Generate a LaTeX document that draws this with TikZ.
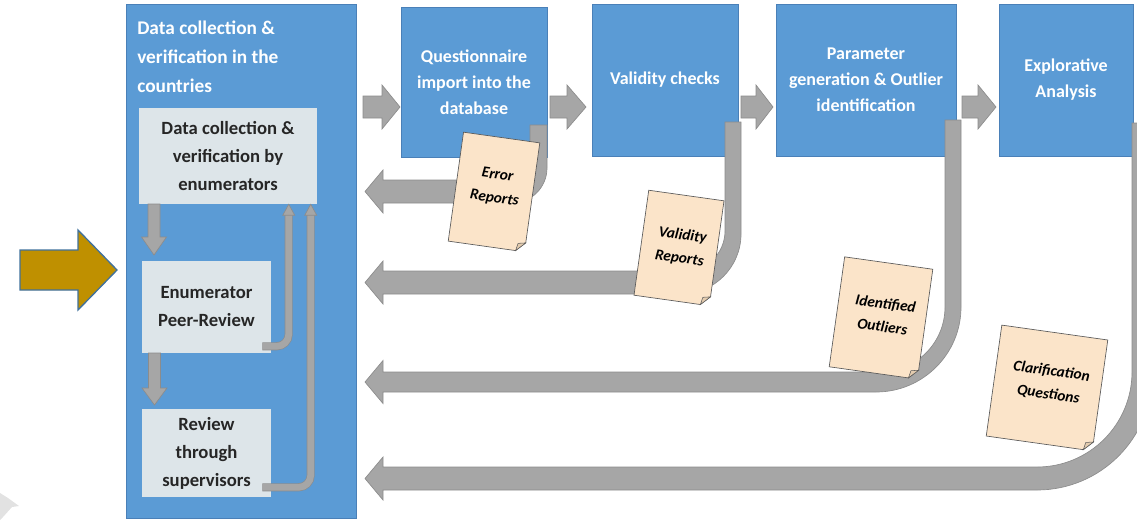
\documentclass[tikz,border=0pt]{standalone}
\usepackage{fontspec}
\setmainfont{Carlito}
\usetikzlibrary{calc}

\definecolor{boxblue}{HTML}{5B9BD5}
\definecolor{boxedge}{HTML}{4A80B8}
\definecolor{innerfill}{HTML}{DDE5E9}
\definecolor{innertext}{HTML}{262626}
\definecolor{pipegrey}{HTML}{A6A6A6}
\definecolor{pipeedge}{HTML}{8C8C8C}
\definecolor{notefill}{HTML}{FBE4C9}
\definecolor{curlfill}{HTML}{E3CBAE}
\definecolor{noteedge}{HTML}{5A5A5A}
\definecolor{gold}{HTML}{BF9000}
\definecolor{goldedge}{HTML}{41719C}
\definecolor{cornermark}{HTML}{E2E2E2}

\tikzset{
  procbox/.style={draw=boxedge, line width=0.7pt, fill=boxblue, text=white,
    align=center, inner sep=0pt,
    font=\bfseries\fontsize{13.5}{19.5}\selectfont},
  innerbox/.style={fill=innerfill, draw=none, text=innertext, align=center,
    inner sep=0pt, font=\bfseries\fontsize{14}{21}\selectfont},
  blockarrow/.style={fill=pipegrey, draw=pipeedge, line width=0.5pt},
  smallpipe/.style={draw=pipeedge, double=pipegrey, double distance=5pt,
    line width=0.5pt, rounded corners=9pt},
  notetext/.style={font=\bfseries\itshape\fontsize{11.5}{17.5}\selectfont,
    align=center, text=black, inner sep=0pt},
  pics/note/.style n args={2}{code={
    \filldraw[fill=notefill, draw=noteedge, line width=0.5pt]
      (-#1/2,-#2/2) -- (#1/2,-#2/2) -- (#1/2,#2/2-9) -- (#1/2-9,#2/2)
      -- (-#1/2,#2/2) -- cycle;
    \filldraw[fill=curlfill, draw=noteedge, line width=0.4pt]
      (#1/2,#2/2-9) -- (#1/2-9,#2/2) -- (#1/2-7.5,#2/2-7.5) -- cycle;
  }},
}

% grey block arrow pointing right: start x, centre y, head base x, tip x
\newcommand\blockarrowR[4]{%
  \filldraw[blockarrow] (#1,#2-11) -- (#3,#2-11) -- (#3,#2-22) -- (#4,#2)
    -- (#3,#2+22) -- (#3,#2+11) -- (#1,#2+11) -- cycle;}
% grey block arrow pointing down: centre x, start y, head base y, tip y
\newcommand\blockarrowD[4]{%
  \filldraw[blockarrow] (#1-6,#2) -- (#1-6,#3) -- (#1-12.5,#3) -- (#1,#4)
    -- (#1+12.5,#3) -- (#1+6,#3) -- (#1+6,#2) -- cycle;}
% feedback pipe: inner x, outer x, top y, upper y, lower y, outer radius, inner radius
\newcommand\returnpipe[7]{%
  \filldraw[blockarrow] (#2,#3) -- (#2,#5-#6)
    .. controls (#2,#5-0.448*#6) and (#2-0.448*#6,#5) .. (#2-#6,#5)
    -- (383,#5) -- (383,{(#4+#5)/2+21.5}) -- (365,{(#4+#5)/2})
    -- (383,{(#4+#5)/2-21.5}) -- (383,#4) -- (#1-#7,#4)
    .. controls (#1-0.448*#7,#4) and (#1,#4-0.448*#7) .. (#1,#4-#7)
    -- (#1,#3) -- cycle;}

\begin{document}
\begin{tikzpicture}[x=0.75pt,y=-0.75pt]
\useasboundingbox (0,0) rectangle (1137,522);
\clip (0,0) rectangle (1137,522);

% faint mark in the lower left corner
\fill[cornermark] (0,493) -- (8,498) -- (19,506) -- (12,507) -- (3,517) -- (0,520) -- cycle;

% entry arrow
\filldraw[fill=gold, draw=goldedge, line width=1pt]
  (20,250) -- (78,250) -- (78,230) -- (117,270) -- (78,310) -- (78,290)
  -- (20,290) -- cycle;

% country level work
\node[draw=boxedge, line width=0.7pt, fill=boxblue, minimum width=230*0.75pt,
      minimum height=514*0.75pt] (country) at (241,261) {};
\node[anchor=west, align=left, text=white, inner sep=0pt,
      font=\bfseries\fontsize{14.5}{21.75}\selectfont] (countrytitle) at (137,57)
  {Data collection \&\\verification in the\\countries};

\node[innerbox, minimum width=178*0.75pt, minimum height=96*0.75pt] (enum) at (228,156)
  {Data collection \&\\verification by\\enumerators};
\node[innerbox, minimum width=129*0.75pt, minimum height=92*0.75pt] (peer) at (206.5,307)
  {Enumerator\\Peer-Review};
\node[innerbox, minimum width=129*0.75pt, minimum height=88*0.75pt] (sup) at (206.5,453)
  {Review\\through\\supervisors};

\blockarrowD{154}{204}{237}{255}
\blockarrowD{154.5}{353}{388}{405}

% loops back to the enumerators
\draw[smallpipe] ($(peer.south east)+(-9,-7)$) -| ($(enum.south west)+(150,10)$);
\filldraw[blockarrow] ($(enum.south west)+(144,11)$) -- ($(enum.south west)+(150,0)$)
  -- ($(enum.south west)+(156,11)$) -- cycle;
\draw[smallpipe] ($(sup.south east)+(-9,-10)$) -| ($(enum.south west)+(172,10)$);
\filldraw[blockarrow] ($(enum.south west)+(166,11)$) -- ($(enum.south west)+(172,0)$)
  -- ($(enum.south west)+(178,11)$) -- cycle;

% central processing steps
\node[procbox, minimum width=146*0.75pt, minimum height=150*0.75pt] (import) at (474,82)
  {Questionnaire\\import into the\\database};
\node[procbox, minimum width=146*0.75pt, minimum height=152*0.75pt] (valid) at (665,80)
  {Validity checks};
\node[procbox, minimum width=180*0.75pt, minimum height=152*0.75pt] (param) at (866,80)
  {Parameter\\generation \& Outlier\\identification};
\node[procbox, minimum width=134*0.75pt, minimum height=152*0.75pt] (explore) at (1066,80)
  {Explorative\\Analysis};

\blockarrowR{363}{107}{382}{400}
\blockarrowR{550}{107}{567}{586}
\blockarrowR{741}{107}{756}{773}
\blockarrowR{962}{107}{978}{996}

% feedback to the countries
\returnpipe{530}{547}{125}{180}{203}{35}{12}
\returnpipe{725}{741}{122}{271}{294}{60}{40}
\returnpipe{945}{961}{120}{372}{392}{85}{65}
\returnpipe{1132}{1152}{123}{467}{490}{115}{95}

% reports handed back
\pic[rotate=-8] at (494,192) {note={77}{110}};
\node[notetext, rotate=-8] (errtxt) at (496,187) {Error\\Reports};
\pic[rotate=-8] at (679,248) {note={76}{106}};
\node[notetext, rotate=-8] (valtxt) at (681,247) {Validity\\Reports};
\pic[rotate=-8] at (881,318) {note={89}{111}};
\node[notetext, rotate=-8] (outtxt) at (884,315) {Identified\\Outliers};
\pic[rotate=-8] at (1047,388) {note={107}{112}};
\node[notetext, rotate=-8] (clartxt) at (1050,383) {Clarification\\Questions};
\end{tikzpicture}
\end{document}
